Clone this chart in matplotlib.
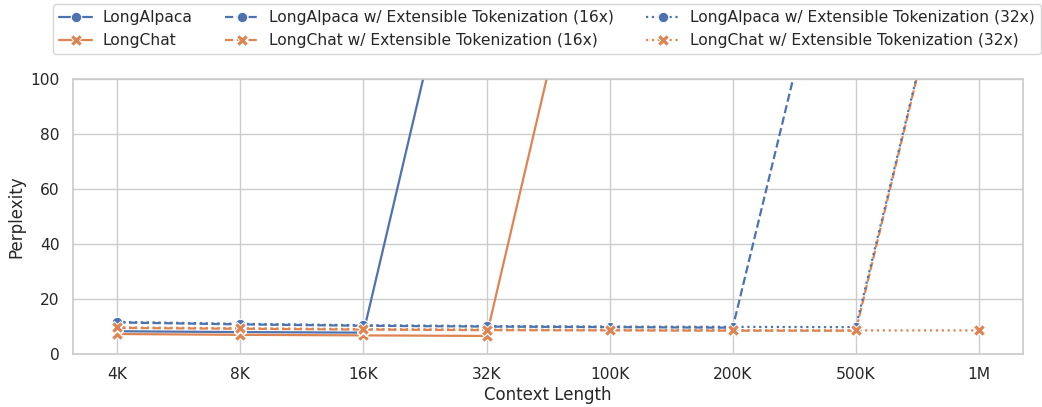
import matplotlib
matplotlib.use('Agg')
import matplotlib.pyplot as plt
import seaborn as sns
import numpy as np

sns.set_theme(style='whitegrid', context='notebook')
plt.rcParams['font.family'] = ['DejaVu Sans']

# context lengths (categorical x axis)
contexts = ['4K', '8K', '16K', '32K', '100K', '200K', '500K', '1M']

# perplexity per model, cut where not evaluated
longalpaca = [8.3, 8.0, 7.8, 198]
longchat = [7.3, 7.0, 6.8, 6.6, 198]
longalpaca_et16 = [11.5, 10.8, 10.3, 10.0, 9.8, 9.6, 194]
longchat_et16 = [9.5, 9.2, 8.9, 8.7, 8.6, 8.5, 8.5, 194]
longalpaca_et32 = [11.7, 11.0, 10.5, 10.2, 10.0, 9.9, 9.8, 194]
longchat_et32 = [9.7, 9.4, 9.1, 8.9, 8.8, 8.7, 8.6, 8.6]

blue = sns.color_palette('deep')[0]
orange = sns.color_palette('deep')[1]

series = [
    ('LongAlpaca', longalpaca, blue, '-', 'o'),
    ('LongChat', longchat, orange, '-', 'X'),
    ('LongAlpaca w/ Extensible Tokenization (16x)', longalpaca_et16, blue, '--', 'o'),
    ('LongChat w/ Extensible Tokenization (16x)', longchat_et16, orange, '--', 'X'),
    ('LongAlpaca w/ Extensible Tokenization (32x)', longalpaca_et32, blue, ':', 'o'),
    ('LongChat w/ Extensible Tokenization (32x)', longchat_et32, orange, ':', 'X'),
]

fig, ax = plt.subplots(figsize=(10.42, 4.07), dpi=100)

for label, vals, color, ls, mk in series:
    x = np.arange(len(vals))
    ax.plot(x, vals, color=color, linestyle=ls, marker=mk,
            markersize=8 if mk == 'X' else 7.5,
            markeredgecolor='white', markeredgewidth=0.75, linewidth=1.6,
            label=label)

ax.set_xticks(np.arange(len(contexts)))
ax.set_xticklabels(contexts)
ax.set_xlim(-0.36, len(contexts) - 1 + 0.36)
ax.set_ylim(0, 100)
ax.tick_params(labelsize=11.2)
ax.set_xlabel('Context Length', fontsize=12, labelpad=3)
ax.set_ylabel('Perplexity', fontsize=12)

# legend sits above the plot and runs past the right edge like the original
fig.legend(*ax.get_legend_handles_labels(), loc='upper left',
           bbox_to_anchor=(53 / 1042, 1 - 4 / 407), ncol=3, fontsize=11.2,
           frameon=True, handlelength=2.1, borderaxespad=0,
           handletextpad=0.7, columnspacing=2.1, borderpad=0.4,
           labelspacing=0.5)

fig.subplots_adjust(left=0.070, right=0.982, top=0.806, bottom=0.130)
fig.savefig('out.png', dpi=100)
